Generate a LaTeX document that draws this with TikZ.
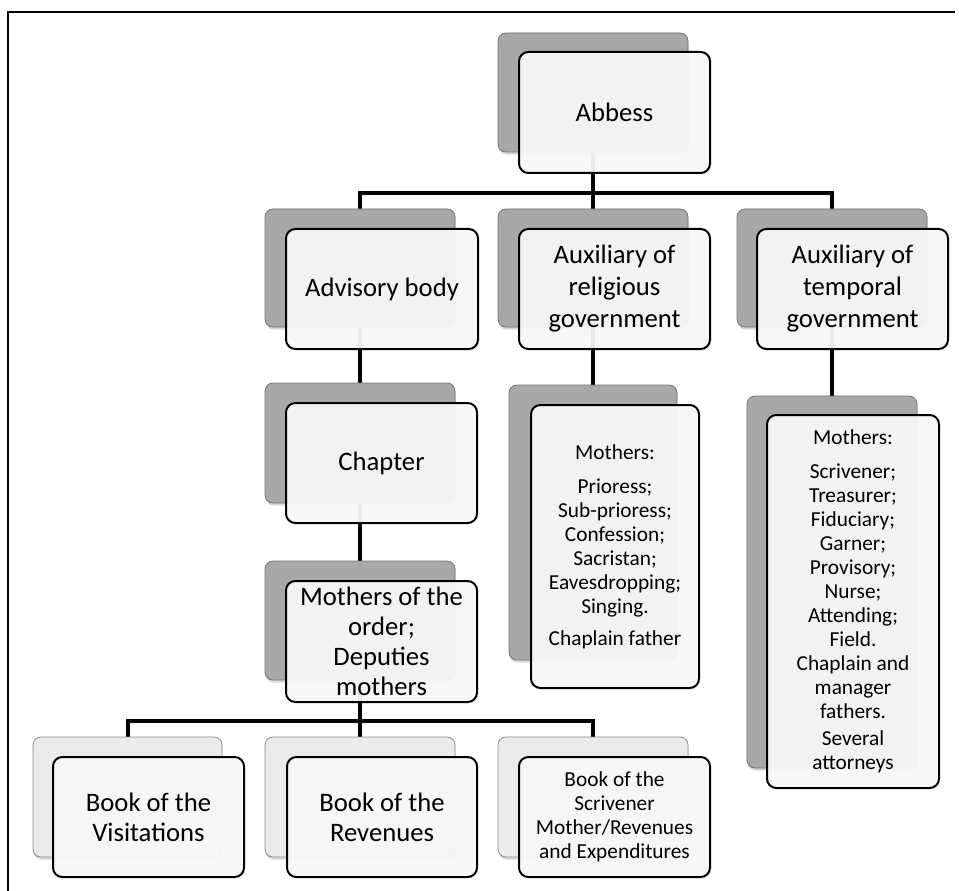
\documentclass[tikz,border=0pt]{standalone}
\usepackage{fontspec}
\setmainfont{Carlito}
\usetikzlibrary{shadows}
\pgfdeclarelayer{background}
\pgfsetlayers{background,main}
\begin{document}
\begin{tikzpicture}[x=0.75pt,y=-0.75pt,
  backdark/.style={draw=black!55, line width=0.6pt, fill=black!34, rounded corners=6pt, inner sep=0pt,
    drop shadow={shadow xshift=0.5pt, shadow yshift=-2pt, opacity=0.3}},
  backlight/.style={draw=black!45, line width=0.6pt, fill=black!8, rounded corners=6pt, inner sep=0pt,
    drop shadow={shadow xshift=0.5pt, shadow yshift=-2pt, opacity=0.3}},
  frontbox/.style={draw=black, line width=1.5pt, fill=black!3, fill opacity=0.95, text opacity=1,
    rounded corners=7pt, inner sep=0pt, align=center},
  bigtext/.style={font=\fontsize{20}{24}\selectfont},
  bigtight/.style={font=\fontsize{20}{22.5}\selectfont},
  smalltext/.style={font=\fontsize{16}{18}\selectfont},
  conn/.style={line width=3pt},
  frameline/.style={line width=1.5pt}]
\useasboundingbox (0,0) rectangle (959,891);
% frame
\coordinate (fA) at (8,891);
\coordinate (fB) at (8,12);
\coordinate (fC) at (955,12);
\draw[frameline] (fA) -- (fB) -- (fC);

% back boxes
\node[backdark, minimum width=142.5pt, minimum height=89.25pt] (abbB) at (593,92.5) {};
\node[backdark, minimum width=142.5pt, minimum height=88.5pt] (advB) at (360,268) {};
\node[backdark, minimum width=142.5pt, minimum height=88.5pt] (relB) at (593,268) {};
\node[backdark, minimum width=142.5pt, minimum height=88.5pt] (tmpB) at (832,268) {};
\node[backdark, minimum width=142.5pt, minimum height=90pt] (chapB) at (360,443) {};
\node[backdark, minimum width=142.5pt, minimum height=89.25pt] (mothB) at (360,620.5) {};
\node[backdark, minimum width=126pt, minimum height=206.25pt] (relLB) at (593,522.5) {};
\node[backdark, minimum width=127.5pt, minimum height=279pt] (tmpLB) at (832,582) {};
\node[backlight, minimum width=141.75pt, minimum height=90pt] (visB) at (127.5,797) {};
\node[backlight, minimum width=142.5pt, minimum height=90pt] (revB) at (360,797) {};
\node[backlight, minimum width=142.5pt, minimum height=90pt] (scrB) at (593,797) {};

% front boxes
\node[frontbox, bigtext, minimum width=143.25pt, minimum height=90.75pt] (abb) at (614.5,112.5) {Abbess};
\node[frontbox, bigtext, minimum width=144pt, minimum height=90pt] (adv) at (382,289) {Advisory body};
\node[frontbox, bigtext, minimum width=143.25pt, minimum height=90pt] (rel) at (614.5,289) {Auxiliary of\\religious\\government};
\node[frontbox, bigtext, minimum width=143.25pt, minimum height=90pt] (tmp) at (852.5,289) {Auxiliary of\\temporal\\government};
\node[frontbox, bigtext, minimum width=143.25pt, minimum height=90pt] (chap) at (381.5,463) {Chapter};
\node[frontbox, bigtight, minimum width=143.25pt, minimum height=90.75pt] (moth) at (381.5,641.5) {Mothers of the\\order;\\Deputies\\mothers};
\node[frontbox, smalltext, minimum width=126pt, minimum height=212.25pt] (relL) at (615,546.5) {Mothers:\\[7.5pt]Prioress;\\Sub-prioress;\\Confession;\\Sacristan;\\Eavesdropping;\\Singing.\\[6pt]Chaplain father};
\node[frontbox, smalltext, minimum width=129pt, minimum height=279.75pt] (tmpL) at (853,601.5) {Mothers:\\[7.5pt]Scrivener;\\Treasurer;\\Fiduciary;\\Garner;\\Provisory;\\Nurse;\\Attending;\\Field.\\Chaplain and\\manager\\fathers.\\[2pt]Several\\attorneys};
\node[frontbox, bigtight, minimum width=143.25pt, minimum height=90pt] (vis) at (148.5,817) {Book of the\\Visitations};
\node[frontbox, bigtight, minimum width=142.5pt, minimum height=90pt] (rev) at (382,817) {Book of the\\Revenues};
\node[frontbox, smalltext, minimum width=143.25pt, minimum height=90pt] (scr) at (614.5,817) {Book of the\\Scrivener\\Mother/Revenues\\and Expenditures};

% connectors
\coordinate (j1) at (593,193);
\coordinate (j2) at (360,721);
\begin{pgfonlayer}{background}
\draw[conn] (abbB.center) -- (j1);
\draw[conn] (advB.north) |- (j1) -| (tmpB.north);
\draw[conn] (j1) -- (relB.north);
\draw[conn] (advB.center) -- (chapB.north);
\draw[conn] (chapB.center) -- (mothB.north);
\draw[conn] (relB.center) -- (relLB.north);
\draw[conn] (tmpB.center) -- (tmpLB.north);
\draw[conn] (mothB.center) -- (j2);
\draw[conn] (visB.north) |- (j2) -| (scrB.north);
\draw[conn] (j2) -- (revB.north);
\end{pgfonlayer}
\end{tikzpicture}
\end{document}
